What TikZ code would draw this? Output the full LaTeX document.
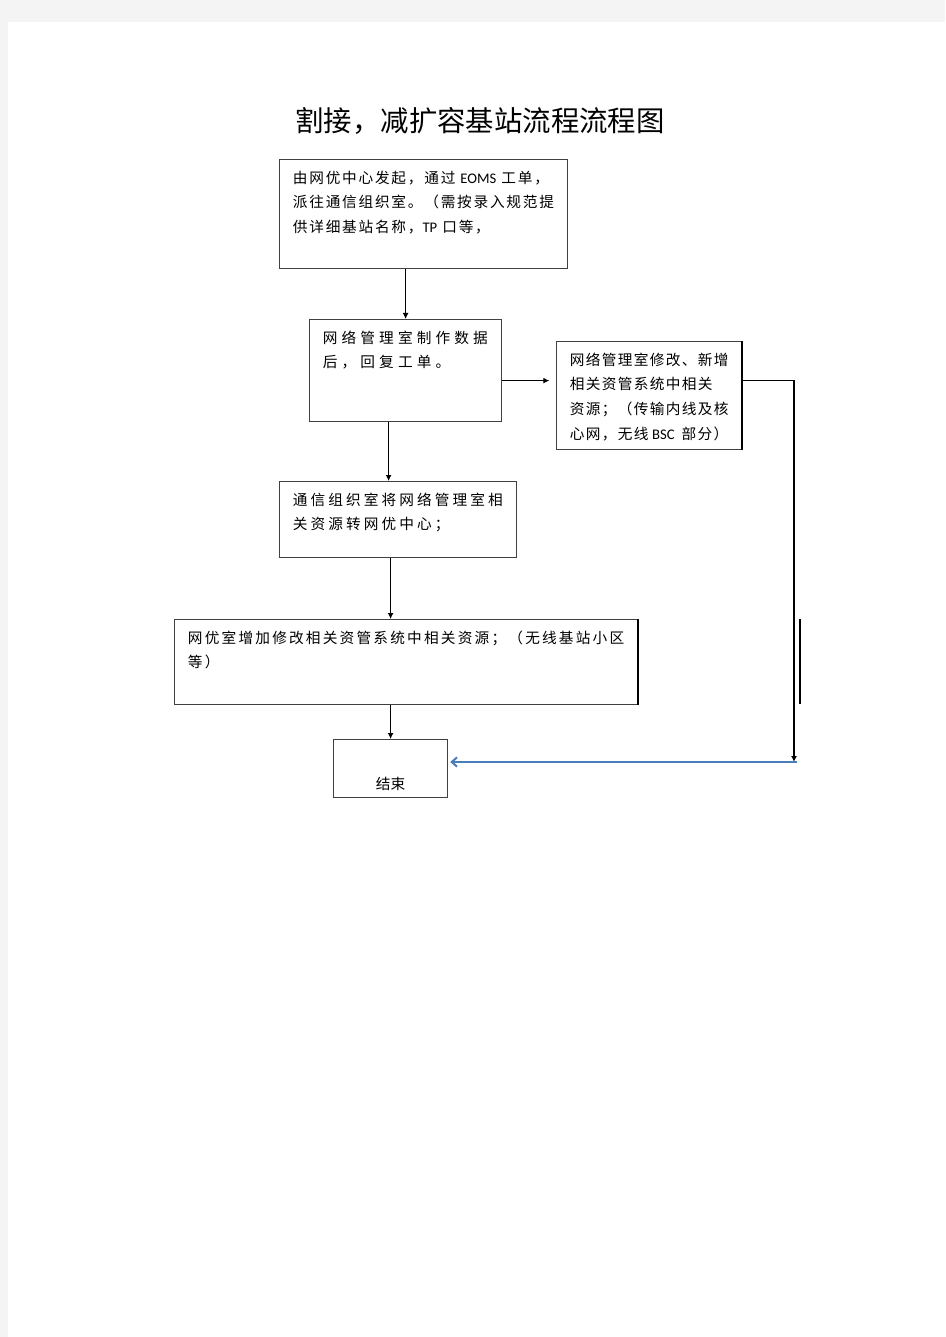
\documentclass[tikz,border=0pt]{standalone}
\usepackage{fontspec}
\newfontfamily\cjk{Noto Sans CJK SC}
\newfontfamily\lat{Carlito}
\usepackage{tikz}
\usetikzlibrary{positioning, arrows.meta, calc}
\definecolor{pagegray}{RGB}{244,244,244}
\definecolor{linkblue}{RGB}{74,126,187}
\definecolor{boxline}{RGB}{64,64,64}

\tikzset{
    stepbox/.style={draw=boxline, line width=0.9pt, anchor=north west, inner xsep=10pt, inner ysep=5pt, font=\cjk\fontsize{11}{18.4}\selectfont},
    arr/.style={-{Latex[length=4.5pt,width=4.5pt]}, line width=0.9pt},
    backarr/.style={-{Straight Barb[length=4pt,width=7pt]}, draw=linkblue, line width=1.5pt},
}

\begin{document}
\begin{tikzpicture}[x=0.75pt, y=-0.75pt]
    % page
    \useasboundingbox (0,0) rectangle (945,1337);
    \fill[pagegray] (0,0) rectangle (945,1337);
    \fill[white] (8,22) rectangle (945,1337);

    \node[font=\cjk\fontsize{21.3}{24}\selectfont] (title) at (480,121) {割接，减扩容基站流程流程图};

    % boxes
    \node[stepbox] (order) at (279,159) {\addfontfeatures{LetterSpace=12}\parbox[c][71.75pt][t]{196pt}{\strut 由网优中心发起，通过 {\lat EOMS} 工单，\\派往通信组织室。（需按录入规范提\\供详细基站名称，{\lat TP} 口等，}};
    \node[stepbox] (plan) at (309,319) {\addfontfeatures{LetterSpace=28}\parbox[c][66.5pt][t]{124pt}{\strut 网络管理室制作数据\\后，回复工单。}};
    \node[stepbox] (modify) at (556,341) {\addfontfeatures{LetterSpace=9}\parbox[c][71pt][t]{118.75pt}{\strut 网络管理室修改、新增\\相关资管系统中相关\\资源；（传输内线及核\\心网，无线 {\lat BSC}\ \ 部分）}};
    \node[stepbox] (transfer) at (279,481) {\addfontfeatures{LetterSpace=21}\parbox[c][47pt][t]{157.75pt}{\strut 通信组织室将网络管理室相\\关资源转网优中心；}};
    \node[stepbox] (adjust) at (174,619) {\addfontfeatures{LetterSpace=15}\parbox[c][53.75pt][t]{327.25pt}{\strut 网优室增加修改相关资管系统中相关资源；（无线基站小区\\等）}};
    \node[stepbox] (finish) at (333,739) {\parbox[c][32.75pt][b]{65.5pt}{\centering 结束}};

    % heavier right edges
    \draw[line width=1.4pt] (modify.north east) -- (modify.south east);
    \draw[line width=1.4pt] (adjust.north east) -- (adjust.south east);

    % connectors
    \coordinate (c2) at ($(plan.south)+(-17,0)$);
    \coordinate (c3) at ($(plan.east)+(0,10)$);
    \coordinate (turn) at (794,762);
    \coordinate (back) at (797,762);
    \coordinate (mark top) at (800,619);
    \coordinate (mark bottom) at (800,704);

    \draw[arr] (plan.north |- order.south) -- (plan.north);
    \draw[arr] (c2) -- (c2 |- transfer.north);
    \draw[arr, shorten >=5pt] (c3) -- (c3 -| modify.west);
    \draw[arr] (c3 -| modify.east) -- (c3 -| turn) -- (turn);
    \draw[arr] (transfer.south -| finish.north) -- (adjust.north -| finish.north);
    \draw[arr] (adjust.south -| finish.north) -- (finish.north);
    \draw[backarr, shorten >=1.5pt] (back) -- (back -| finish.east);
    \draw[line width=0.8pt] (mark top) -- (mark bottom);
\end{tikzpicture}
\end{document}
